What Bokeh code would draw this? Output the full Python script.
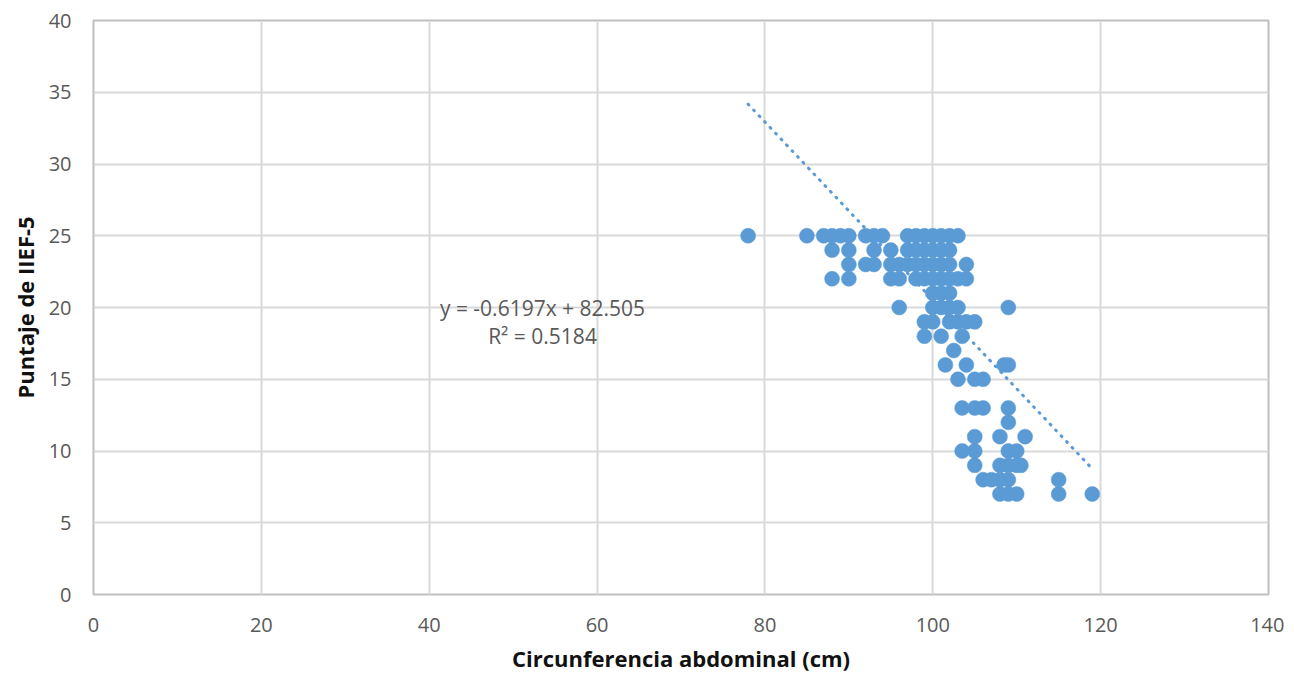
from bokeh.plotting import figure
from bokeh.models import Range1d, SingleIntervalTicker, Label
from bokeh.embed import file_html
from bokeh.resources import INLINE

# Data: abdominal circumference (cm) vs IIEF-5 score, grouped by score row
score_25 = [78, 85, 87, 88, 89, 90, 92, 93, 94, 97, 98, 99, 100, 101, 102, 103]
score_24 = [88, 90, 93, 95, 97, 98, 99, 100, 101, 102]
score_23 = [90, 92, 93, 95, 96, 97, 98, 99, 100, 101, 102, 104]
score_22 = [88, 90, 95, 96, 98, 99, 100, 101, 102, 103, 104]
score_21 = [100, 101, 102]
score_20 = [96, 100, 101, 102, 103, 109]
score_19 = [99, 100, 102, 103, 104, 105]
score_18 = [99, 101, 103.5]
score_17 = [102.5]
score_16 = [101.5, 104, 108.5, 109]
score_15 = [103, 105, 106]
score_13 = [103.5, 105, 106, 109]
score_12 = [109]
score_11 = [105, 108, 111]
score_10 = [103.5, 105, 109, 110]
score_9 = [105, 108, 109, 110, 110.5]
score_8 = [106, 107, 108, 109, 115]
score_7 = [108, 109, 110, 115, 119]

rows = {25: score_25, 24: score_24, 23: score_23, 22: score_22, 21: score_21,
        20: score_20, 19: score_19, 18: score_18, 17: score_17, 16: score_16,
        15: score_15, 13: score_13, 12: score_12, 11: score_11, 10: score_10,
        9: score_9, 8: score_8, 7: score_7}

circ = []
score = []
for s, xs in rows.items():
    for x in xs:
        circ.append(x)
        score.append(s)

slope = -0.6197
intercept = 82.505
eq_text = "y = -0.6197x + 82.505"
r2_text = "R² = 0.5184"
x_title = "Circunferencia abdominal (cm)"
y_title = "Puntaje de IIEF-5"

FONT = "Open Sans"
GREY = "#595959"

p = figure(width=1284, height=675, output_backend="svg", toolbar_location=None,
           x_range=Range1d(0, 140), y_range=Range1d(0, 40),
           min_border_left=93, min_border_right=16, min_border_top=20,
           min_border_bottom=81)
p.background_fill_color = "white"
p.border_fill_color = "white"
p.outline_line_color = "#bfbfbf"
p.outline_line_width = 2

p.xaxis.ticker = SingleIntervalTicker(interval=20)
p.yaxis.ticker = SingleIntervalTicker(interval=5)
for ax in (p.xaxis[0], p.yaxis[0]):
    ax.axis_line_color = None
    ax.major_tick_line_color = None
    ax.minor_tick_line_color = None
    ax.major_tick_out = 0
    ax.major_tick_in = 0
    ax.minor_tick_out = 0
    ax.major_label_text_font = FONT
    ax.major_label_text_font_size = "20px"
    ax.major_label_text_color = GREY
    ax.axis_label_text_font = FONT
    ax.axis_label_text_font_size = "22px"
    ax.axis_label_text_font_style = "bold"
    ax.axis_label_text_color = "#111111"

p.xaxis.axis_label = x_title
p.yaxis.axis_label = y_title
p.xaxis.major_label_standoff = 23
p.yaxis.major_label_standoff = 22
p.xaxis.axis_label_standoff = 8
p.yaxis.axis_label_standoff = 6

p.xgrid.grid_line_color = "#d9d9d9"
p.ygrid.grid_line_color = "#d9d9d9"
p.xgrid.grid_line_width = 2
p.ygrid.grid_line_width = 2

p.scatter(circ, score, size=15, marker="circle", fill_color="#5b9bd5",
          line_color="#5b9bd5", line_width=0.5)

x0, x1 = min(circ), max(circ)
p.line([x0, x1], [slope * x0 + intercept, slope * x1 + intercept],
       line_color="#5b9bd5", line_width=3, line_dash="1 7", line_cap="round")

p.add_layout(Label(x=53.5, y=20.0, text=eq_text, text_align="center",
                   text_baseline="middle", text_font=FONT,
                   text_font_size="21px", text_color=GREY))
p.add_layout(Label(x=53.5, y=18.0, text=r2_text, text_align="center",
                   text_baseline="middle", text_font=FONT,
                   text_font_size="21px", text_color=GREY))

open("out.html", "w").write(file_html(p, INLINE))
